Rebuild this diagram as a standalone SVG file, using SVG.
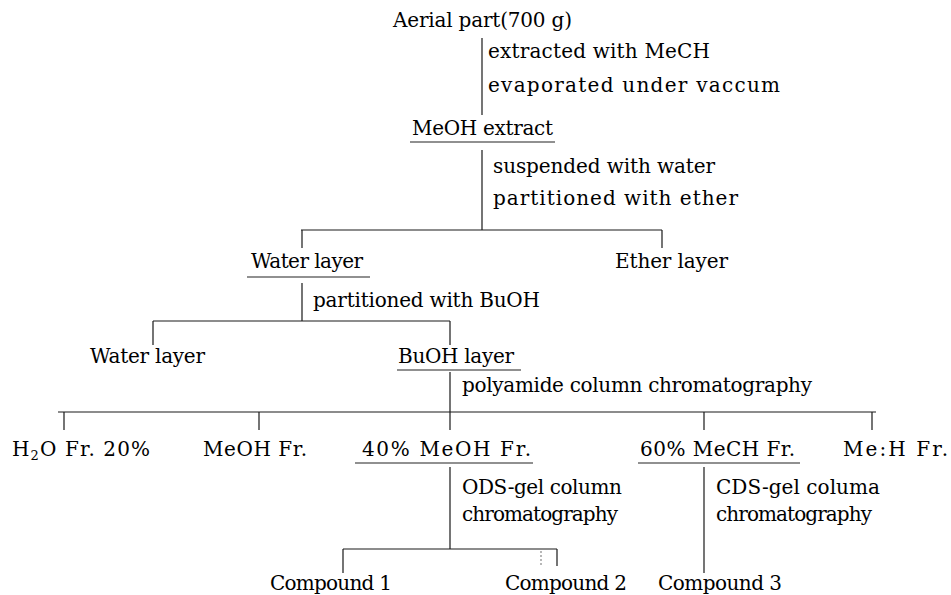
<svg xmlns="http://www.w3.org/2000/svg" width="951" height="595" viewBox="0 0 951 595">
<style>
text{font-family:"DejaVu Serif","Liberation Serif",serif;font-size:20px;fill:#000}
.ln{stroke:#1a1a1a;stroke-width:1.2;fill:none}
.ul{stroke:#222;stroke-width:1.2;fill:none}
</style>
<rect width="951" height="595" fill="#fff"/>
<g id="connectors" class="ln">
<path d="M482 38V115"/>
<path d="M482 150V230M301 230H662M302 230V248M662 230V248"/>
<path d="M302 283V321M153 321H450M153 321V345M450 321V345"/>
<path d="M450 372V412M58 412H876M64 412V430M259 412V430M450 412V430M704 412V430M872 412V430"/>
<path d="M450 467V549M343 549H557M343 549V573M557 549V566"/>
<path d="M541 551V566" stroke-dasharray="2 2" stroke="#888"/>
<path d="M704 467V573"/>
</g>
<g id="step-labels">
<text x="488" y="58" textLength="222" lengthAdjust="spacing">extracted with MeCH</text>
<text x="488" y="92" textLength="292" lengthAdjust="spacing">evaporated under vaccum</text>
<text x="493" y="173" textLength="222" lengthAdjust="spacing">suspended with water</text>
<text x="493" y="205" textLength="245" lengthAdjust="spacing">partitioned with ether</text>
<text x="313" y="307" textLength="227" lengthAdjust="spacing">partitioned with BuOH</text>
<text x="462" y="392" textLength="350" lengthAdjust="spacing">polyamide column chromatography</text>
<text x="462" y="494" textLength="160" lengthAdjust="spacing">ODS-gel column</text>
<text x="462" y="521" textLength="156" lengthAdjust="spacing">chromatography</text>
<text x="716" y="494" textLength="164" lengthAdjust="spacing">CDS-gel columa</text>
<text x="716" y="521" textLength="156" lengthAdjust="spacing">chromatography</text>
</g>
<g id="n-aerial"><text x="393" y="27" textLength="179" lengthAdjust="spacing">Aerial part(700 g)</text></g>
<g id="n-meoh-extract"><text x="412" y="135" textLength="141" lengthAdjust="spacing">MeOH extract</text><path class="ul" d="M410 142H555"/></g>
<g id="n-water1"><text x="251" y="268" textLength="112" lengthAdjust="spacing">Water layer</text><path class="ul" d="M247 277H370"/></g>
<g id="n-ether"><text x="615" y="268" textLength="113" lengthAdjust="spacing">Ether layer</text></g>
<g id="n-water2"><text x="90" y="363" textLength="115" lengthAdjust="spacing">Water layer</text></g>
<g id="n-buoh"><text x="398" y="363" textLength="116" lengthAdjust="spacing">BuOH layer</text><path class="ul" d="M397 370H521"/></g>
<g id="n-h2o"><text x="12" y="456" textLength="138" lengthAdjust="spacing">H<tspan font-size="13" dy="4">2</tspan><tspan dy="-4">O Fr. 20%</tspan></text></g>
<g id="n-meoh-fr"><text x="203" y="456" textLength="104" lengthAdjust="spacing">MeOH Fr.</text></g>
<g id="n-40"><text x="362" y="456" textLength="169" lengthAdjust="spacing">40% MeOH Fr.</text><path class="ul" d="M355 463H533"/></g>
<g id="n-60"><text x="640" y="456" textLength="155" lengthAdjust="spacing">60% MeCH Fr.</text><path class="ul" d="M638 463H800"/></g>
<g id="n-meoh-fr2"><text x="843" y="456" textLength="105" lengthAdjust="spacing">Me:H Fr.</text></g>
<g id="n-c1"><text x="270" y="590" textLength="122" lengthAdjust="spacing">Compound 1</text></g>
<g id="n-c2"><text x="505" y="590" textLength="122" lengthAdjust="spacing">Compound 2</text></g>
<g id="n-c3"><text x="658" y="590" textLength="124" lengthAdjust="spacing">Compound 3</text></g>
</svg>
